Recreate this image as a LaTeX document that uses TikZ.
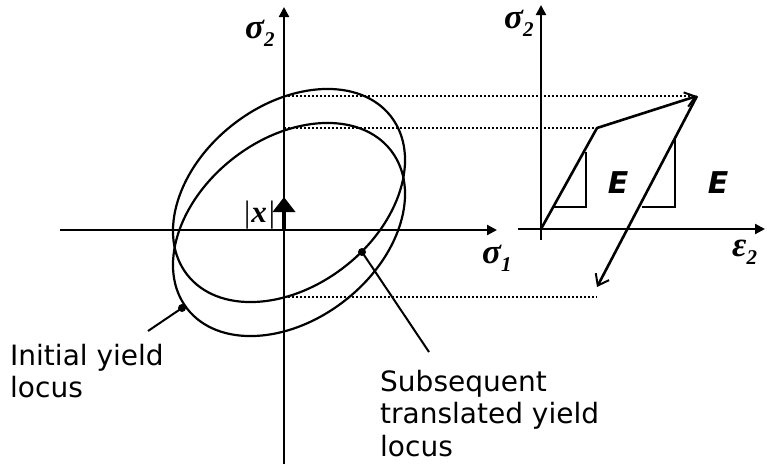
\documentclass[tikz,border=0pt]{standalone}
\usepackage{fontspec}
\setmainfont{Liberation Serif}
\newfontfamily\labfont{DejaVu Sans}
\usetikzlibrary{arrows.meta}
\newcommand{\grklab}[2]{{\fontsize{35}{35}\selectfont\bfseries\itshape #1\raisebox{-8pt}{\fontsize{21}{21}\selectfont #2}}}
\begin{document}
\begin{tikzpicture}[x=1pt,y=-1pt,
  axis/.style={line width=2.2pt,-{Triangle[length=10pt,width=10pt]}},
  locus/.style={line width=2.2pt},
  guide/.style={line width=1.6pt,dash pattern=on 1.6pt off 2.4pt},
  curve/.style={line width=2.6pt},
  barbed/.style={-{Straight Barb[length=10pt,width=15pt,line width=2pt]}},
  tri/.style={line width=2.6pt},
  leader/.style={line width=2pt},
  dot/.style={circle,fill,inner sep=0pt,minimum size=8pt},
  lab/.style={font=\labfont\fontsize{28}{32.5}\selectfont,align=left,anchor=north west,inner sep=0pt},
  elab/.style={font=\labfont\bfseries\itshape\fontsize{30}{30}\selectfont,anchor=base,inner sep=0pt},
  grk/.style={anchor=base west,inner sep=0pt}]
\useasboundingbox (0,0) rectangle (767,464);
% left axes
\coordinate (L0) at (284,230);
\coordinate (Lx0) at (60,230);
\coordinate (Lx1) at (497,230);
\coordinate (Ly0) at (284,464);
\coordinate (Ly1) at (284,7);
\draw[axis] (Lx0) -- (Lx1);
\draw[axis] (Ly0) -- (Ly1);
% right axes
\coordinate (R0) at (541,229);
\coordinate (Rx0) at (518,229);
\coordinate (Rx1) at (765,229);
\coordinate (Ry0) at (541,240);
\coordinate (Ry1) at (541,5);
\draw[axis] (Rx0) -- (Rx1);
\draw[axis] (Ry0) -- (Ry1);
% yield loci
\draw[locus,shift={(289,195.5)},rotate=37.8] (0,0) ellipse [x radius=129pt,y radius=90.4pt];
\draw[locus,shift={(289,229.5)},rotate=37.8] (0,0) ellipse [x radius=129pt,y radius=90.4pt];
% stress-strain curve points
\coordinate (Y) at (597,128);
\coordinate (P) at (697,96);
\coordinate (U) at (597,287);
% dotted guides
\coordinate (gA0) at (284,96);
\coordinate (gA1) at (690,96);
\coordinate (gB0) at (284,128);
\coordinate (gC0) at (284,297);
\coordinate (gC1) at (597,297);
\draw[guide] (gA0) -- (gA1);
\draw[guide] (gB0) -- (Y);
\draw[guide] (gC0) -- (gC1);
% curve
\draw[curve] (R0) -- (Y);
\draw[curve,barbed] (Y) -- (P);
\draw[curve,barbed] (P) -- (U);
% slope triangles
\draw[tri] (553,207) -- (586,207) -- (586,152);
\draw[tri] (642,207) -- (675,207) -- (675,139);
\node[elab] (E1) at (618,193) {E};
\node[elab] (E2) at (718,193) {E};
% translation vector
\coordinate (xt) at (284,197);
\draw[line width=4pt,-{Triangle[length=15pt,width=22pt]}] (L0) -- (xt);
\node[grk,font=\fontsize{31}{31}\selectfont] (xl) at (244,222) {|\kern1pt\textbf{\textit{x}}\kern2pt|};
% dots and leaders
\node[dot] (dA) at (362,252) {};
\node[dot] (dB) at (182,308) {};
\coordinate (lA) at (429,352);
\coordinate (lB) at (148,331);
\draw[leader] (dA.center) -- (lA);
\draw[leader] (dB.center) -- (lB);
% labels
\node[lab] (ini) at (10,344) {Initial yield\\locus};
\node[lab] (sub) at (380,370) {Subsequent\\translated yield\\locus};
\node[grk] (s2L) at (245,38) {\grklab{σ}{2}};
\node[grk] (s1) at (482,263) {\grklab{σ}{1}};
\node[grk] (s2R) at (504,28) {\grklab{σ}{2}};
\node[grk] (e2) at (732,256) {\grklab{ε}{2}};
\end{tikzpicture}
\end{document}
